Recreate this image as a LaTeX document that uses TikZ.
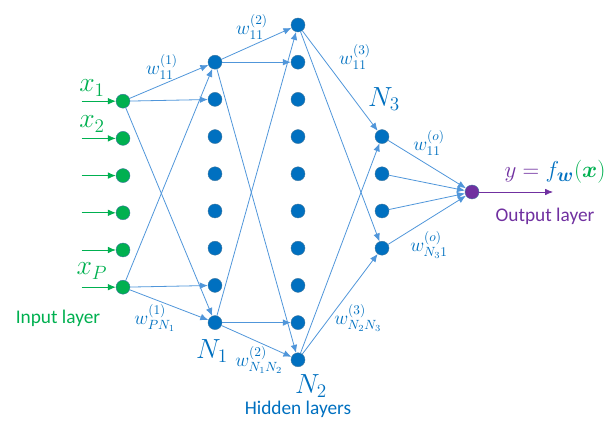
\documentclass[tikz,border=0pt]{standalone}
\usepackage{amsmath,amssymb}
\usepackage{fontspec}
\setmainfont{Carlito}
\usepackage{xcolor}
\usepackage{tikz}
\usetikzlibrary{arrows.meta,positioning,calc}

\definecolor{nodeblue}{HTML}{0070C0}
\definecolor{edgeblue}{HTML}{5096DA}
\definecolor{ingreen}{HTML}{00B050}
\definecolor{outpurple}{HTML}{7030A0}

\tikzset{
    unit/.style={circle, inner sep=0pt, minimum size=10.5pt, draw=gray!50!nodeblue, line width=0.3pt},
    innode/.style={unit, fill=ingreen},
    hidnode/.style={unit, fill=nodeblue},
    outnode/.style={unit, fill=outpurple},
    conn/.style={edgeblue, line width=0.6pt, -{Latex[length=6pt,width=5pt]}},
    wlab/.style={text=nodeblue, font=\fontsize{14}{16}\selectfont},
    nlab/.style={text=nodeblue, font=\fontsize{21}{24}\selectfont},
    xlab/.style={text=ingreen, font=\fontsize{22}{25}\selectfont},
    layerlab/.style={font=\fontsize{14.5}{17}\selectfont}
}

\begin{document}
\begin{tikzpicture}[x=0.75pt, y=-0.75pt]
    \useasboundingbox (0,0) rectangle (614,427);

    % Layers of units
    \foreach \k in {1,...,6}
        \node[innode] (in\k) at (123, {64+37.2*\k}) {};
    \foreach \k in {1,...,8}
        \node[hidnode] (ha\k) at (215, {25+37.2*\k}) {};
    \foreach \k in {1,...,10}
        \node[hidnode] (hb\k) at (298, {25+37.2*(\k-1)}) {};
    \foreach \k in {1,...,4}
        \node[hidnode] (hc\k) at (382, {25+37.2*(\k+2)}) {};
    \node[outnode] (out) at (472, 192) {};

    % Inputs
    \foreach \k in {1,...,6}
        \draw[ingreen, line width=0.6pt, -{Latex[length=6pt,width=5pt]}] ([xshift=-31pt]in\k.center) -- (in\k);

    % Input layer -> hidden layer 1
    \foreach \t in {1,2,8}
        \draw[conn] (in1) -- (ha\t);
    \foreach \t in {1,7,8}
        \draw[conn] (in6) -- (ha\t);

    % Hidden layer 1 -> hidden layer 2
    \foreach \t in {1,2,10}
        \draw[conn] (ha1) -- (hb\t);
    \foreach \t in {1,9,10}
        \draw[conn] (ha8) -- (hb\t);

    % Hidden layer 2 -> hidden layer 3
    \foreach \t in {1,4}
        \draw[conn] (hb1) -- (hc\t);
    \foreach \t in {1,4}
        \draw[conn] (hb10) -- (hc\t);

    % Hidden layer 3 -> output
    \foreach \s in {1,...,4}
        \draw[conn] (hc\s) -- (out);
    \coordinate (yend) at (553, 192);
    \draw[outpurple, line width=0.6pt, -{Latex[length=6pt,width=5pt]}] (out) -- (yend);

    % Labels
    \node[xlab] (x1) at (92, 88) {$x_1$};
    \node[xlab] (x2) at (92, 124) {$x_2$};
    \node[xlab] (xP) at (92, 271) {$x_P$};
    \node[layerlab, text=ingreen] (inlab) at (58, 318) {Input layer};

    \node[nlab] (n1) at (212, 351) {$N_1$};
    \node[nlab] (n2) at (311, 386) {$N_2$};
    \node[nlab] (n3) at (384, 99) {$N_3$};
    \node[layerlab, text=nodeblue] (hidlab) at (298, 409) {Hidden layers};

    \node[wlab] (w1a) at (162, 67) {$w_{11}^{(1)}$};
    \node[wlab] (w1b) at (155, 318) {$w_{PN_1}^{(1)}$};
    \node[wlab] (w2a) at (252, 27) {$w_{11}^{(2)}$};
    \node[wlab] (w2b) at (259, 360) {$w_{N_1N_2}^{(2)}$};
    \node[wlab] (w3a) at (355, 57) {$w_{11}^{(3)}$};
    \node[wlab] (w3b) at (358, 318) {$w_{N_2N_3}^{(3)}$};
    \node[wlab] (woa) at (429, 143) {$w_{11}^{(o)}$};
    \node[wlab] (wob) at (429, 245) {$w_{N_3 1}^{(o)}$};

    \node[font=\fontsize{19}{22}\selectfont] (ylab) at (555, 172)
        {$\color{outpurple} y = {\color{nodeblue} f_{\boldsymbol{w}}}{\color{ingreen}(\boldsymbol{x})}$};
    \node[layerlab, text=outpurple] (outlab) at (545, 216) {Output layer};
\end{tikzpicture}
\end{document}
